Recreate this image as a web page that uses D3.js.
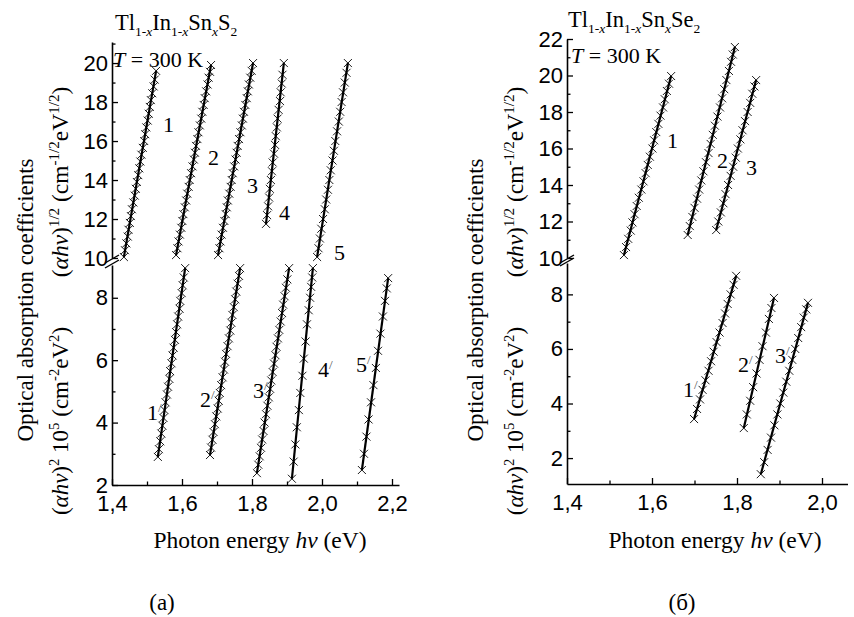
<!DOCTYPE html>
<html>
<head>
<meta charset="utf-8">
<script src="https://cdn.jsdelivr.net/npm/d3@7"></script>
<style>
  body { margin: 0; background: #fff; }
  svg { display: block; }
</style>
</head>
<body>
<div id="plot"></div>
<script>
// Tl1-xIn1-xSnxS2 : (alpha h nu)^1/2 vs photon energy, curves 1..5
const sHalf1 = [[1.434,10.05],[1.437,10.4],[1.441,10.75],[1.445,11.1],[1.447,11.45],[1.451,11.8],[1.454,12.15],[1.457,12.5],[1.461,12.85],[1.465,13.2],[1.468,13.55],[1.471,13.9],[1.475,14.25],[1.478,14.6],[1.481,14.95],[1.484,15.3],[1.488,15.65],[1.492,16.0],[1.495,16.35],[1.498,16.7],[1.502,17.05],[1.505,17.4],[1.508,17.75],[1.511,18.1],[1.515,18.45],[1.519,18.8],[1.522,19.15],[1.526,19.6]];
const sHalf2 = [[1.583,10.15],[1.587,10.5],[1.590,10.85],[1.594,11.2],[1.598,11.55],[1.601,11.9],[1.604,12.25],[1.608,12.6],[1.612,12.95],[1.615,13.3],[1.619,13.65],[1.622,14.0],[1.626,14.35],[1.630,14.7],[1.634,15.05],[1.637,15.4],[1.640,15.75],[1.644,16.1],[1.647,16.45],[1.651,16.8],[1.655,17.15],[1.658,17.5],[1.662,17.85],[1.665,18.2],[1.669,18.55],[1.673,18.9],[1.676,19.25],[1.680,19.55],[1.683,19.9]];
const sHalf3 = [[1.703,10.15],[1.707,10.5],[1.710,10.85],[1.713,11.2],[1.717,11.55],[1.721,11.9],[1.725,12.25],[1.728,12.6],[1.731,12.95],[1.735,13.3],[1.739,13.65],[1.742,14.0],[1.745,14.35],[1.749,14.7],[1.753,15.05],[1.756,15.4],[1.759,15.75],[1.763,16.1],[1.767,16.45],[1.771,16.8],[1.774,17.15],[1.777,17.5],[1.781,17.85],[1.785,18.2],[1.788,18.55],[1.791,18.9],[1.795,19.25],[1.799,19.6],[1.803,20.0]];
const sHalf4 = [[1.840,11.75],[1.843,12.2],[1.846,12.65],[1.849,13.1],[1.851,13.55],[1.854,14.0],[1.857,14.45],[1.859,14.9],[1.863,15.35],[1.866,15.8],[1.868,16.25],[1.871,16.7],[1.873,17.15],[1.876,17.6],[1.880,18.05],[1.882,18.5],[1.885,18.95],[1.887,19.4],[1.891,20.0]];
const sHalf5 = [[1.986,10.05],[1.990,10.5],[1.994,11.0],[1.998,11.5],[2.003,12.0],[2.008,12.5],[2.012,13.0],[2.017,13.5],[2.021,14.0],[2.025,14.5],[2.030,15.0],[2.034,15.5],[2.038,16.0],[2.043,16.5],[2.048,17.0],[2.052,17.5],[2.056,18.0],[2.060,18.5],[2.065,19.0],[2.070,19.5],[2.074,20.0]];

// Tl1-xIn1-xSnxS2 : (alpha h nu)^2 10^5, curves 1'..5'
const sSq1 = [[1.531,2.9],[1.534,3.15],[1.538,3.4],[1.541,3.65],[1.544,3.9],[1.547,4.15],[1.550,4.4],[1.553,4.65],[1.557,4.9],[1.560,5.15],[1.564,5.4],[1.566,5.65],[1.570,5.9],[1.573,6.15],[1.576,6.4],[1.580,6.65],[1.583,6.9],[1.586,7.15],[1.589,7.4],[1.593,7.65],[1.595,7.9],[1.599,8.15],[1.602,8.4],[1.605,8.65],[1.609,8.95]];
const sSq2 = [[1.680,2.96],[1.683,3.2],[1.687,3.45],[1.690,3.7],[1.694,3.95],[1.698,4.2],[1.702,4.45],[1.705,4.7],[1.708,4.95],[1.712,5.2],[1.716,5.45],[1.720,5.7],[1.723,5.95],[1.726,6.2],[1.730,6.45],[1.734,6.7],[1.738,6.95],[1.741,7.2],[1.744,7.45],[1.748,7.7],[1.752,7.95],[1.755,8.2],[1.759,8.45],[1.763,8.7],[1.766,8.95]];
const sSq3 = [[1.814,2.38],[1.818,2.65],[1.822,2.92],[1.826,3.19],[1.829,3.46],[1.833,3.73],[1.836,4.0],[1.840,4.27],[1.844,4.54],[1.848,4.81],[1.852,5.08],[1.855,5.35],[1.859,5.62],[1.863,5.89],[1.867,6.16],[1.870,6.43],[1.874,6.7],[1.878,6.97],[1.882,7.24],[1.886,7.51],[1.889,7.78],[1.893,8.05],[1.897,8.32],[1.901,8.59],[1.906,8.95]];
const sSq4 = [[1.914,2.2],[1.919,2.75],[1.924,3.3],[1.928,3.85],[1.934,4.4],[1.938,4.95],[1.944,5.5],[1.948,6.05],[1.953,6.6],[1.957,7.15],[1.962,7.6],[1.966,8.0],[1.969,8.35],[1.972,8.65],[1.974,8.95]];
const sSq5 = [[2.114,2.48],[2.120,3.0],[2.127,3.55],[2.133,4.1],[2.140,4.65],[2.147,5.2],[2.154,5.75],[2.160,6.3],[2.167,6.85],[2.174,7.4],[2.180,7.9],[2.185,8.3],[2.189,8.63]];

// Tl1-xIn1-xSnxSe2 : (alpha h nu)^1/2, curves 1..3
const seHalf1 = [[1.534,10.16],[1.539,10.6],[1.544,11.05],[1.550,11.5],[1.554,11.95],[1.559,12.4],[1.564,12.85],[1.569,13.3],[1.575,13.75],[1.580,14.2],[1.585,14.65],[1.590,15.1],[1.595,15.55],[1.601,16.0],[1.605,16.45],[1.610,16.9],[1.615,17.35],[1.620,17.8],[1.626,18.25],[1.630,18.7],[1.635,19.15],[1.640,19.55],[1.645,19.97]];
const seHalf2 = [[1.684,11.26],[1.689,11.75],[1.695,12.25],[1.700,12.75],[1.706,13.25],[1.711,13.75],[1.716,14.25],[1.721,14.75],[1.727,15.25],[1.733,15.75],[1.738,16.25],[1.743,16.75],[1.748,17.25],[1.754,17.75],[1.760,18.25],[1.765,18.75],[1.770,19.25],[1.775,19.75],[1.781,20.25],[1.786,20.75],[1.790,21.15],[1.795,21.56]];
const seHalf3 = [[1.751,11.53],[1.756,12.0],[1.762,12.5],[1.768,13.0],[1.773,13.5],[1.779,14.0],[1.785,14.5],[1.791,15.0],[1.797,15.5],[1.802,16.0],[1.808,16.5],[1.813,17.0],[1.819,17.5],[1.825,18.0],[1.831,18.5],[1.836,19.0],[1.841,19.4],[1.845,19.75]];

// Tl1-xIn1-xSnxSe2 : (alpha h nu)^2 10^5, curves 1'..3'
const seSq1 = [[1.699,3.43],[1.706,3.8],[1.713,4.15],[1.719,4.5],[1.726,4.85],[1.733,5.2],[1.739,5.55],[1.745,5.9],[1.752,6.25],[1.759,6.6],[1.766,6.95],[1.772,7.3],[1.778,7.65],[1.785,8.0],[1.792,8.35],[1.798,8.68]];
const seSq2 = [[1.816,3.1],[1.823,3.6],[1.831,4.1],[1.838,4.6],[1.846,5.1],[1.853,5.6],[1.860,6.1],[1.868,6.6],[1.875,7.1],[1.881,7.5],[1.887,7.87]];
const seSq3 = [[1.856,1.41],[1.864,1.85],[1.872,2.3],[1.880,2.75],[1.888,3.2],[1.895,3.6],[1.902,4.0],[1.909,4.4],[1.916,4.8],[1.923,5.2],[1.930,5.6],[1.937,6.0],[1.944,6.4],[1.951,6.8],[1.957,7.15],[1.963,7.45],[1.967,7.69]];

// tick values
const xTicksA = [1.4, 1.6, 1.8, 2.0, 2.2];
const xMinorA = [1.5, 1.7, 1.9, 2.1];
const xTicksB = [1.4, 1.6, 1.8, 2.0];
const xMinorB = [1.5, 1.7, 1.9];
const yTopTicksA = [10, 12, 14, 16, 18, 20];
const yTopTicksB = [10, 12, 14, 16, 18, 20, 22];
const yTopMinor = [11, 13, 15, 17, 19, 21];
const yBotTicks = [2, 4, 6, 8];
const yBotMinor = [3, 5, 7];

const w = 854, h = 617;
const serif = "'Liberation Serif', 'Times New Roman', serif";
const sans = "'Liberation Sans', Arial, sans-serif";

const svg = d3.select("#plot").append("svg")
  .attr("width", w)
  .attr("height", h);

svg.append("rect").attr("width", w).attr("height", h).attr("fill", "white");

const fmt = d => d3.format(".1f")(d).replace(".", ",");

// rich text: parts = [text, mode, italic, colour]; mode "" | "sub" | "sup"
function rich(g, x, y, parts, size, opts = {}) {
  const t = g.append("text")
    .attr("x", x).attr("y", y)
    .attr("font-family", serif)
    .attr("font-size", size)
    .attr("fill", "black")
    .attr("text-anchor", opts.anchor || "start");
  if (opts.rotate) t.attr("transform", `rotate(-90,${x},${y})`);
  const small = opts.small || 0.6;
  let cur = 0;
  parts.forEach(p => {
    const mode = p[1] || "";
    const want = mode === "sub" ? size * 0.28 : mode === "sup" ? -size * 0.38 : 0;
    const ts = t.append("tspan").attr("dy", want - cur).text(p[0]);
    if (mode) ts.attr("font-size", size * small);
    if (p[2]) ts.attr("font-style", "italic");
    if (p[3]) ts.attr("fill", p[3]);
    cur = want;
  });
  return t;
}

function panel(cfg) {
  const g = svg.append("g");
  const x = d3.scaleLinear().domain(cfg.xDomain).range(cfg.xRange);
  const yTop = d3.scaleLinear().domain(cfg.topDomain).range(cfg.topRange);
  const yBot = d3.scaleLinear().domain(cfg.botDomain).range(cfg.botRange);
  const ax = cfg.xRange[0];
  const ay = cfg.botRange[0];

  const styleAxis = sel => {
    sel.select(".domain").attr("stroke-width", 1.6);
    sel.selectAll(".tick line").attr("stroke-width", 1.3);
    sel.selectAll("text").attr("font-family", sans).attr("font-size", 22).attr("fill", "black");
  };

  // x axis
  g.append("g").attr("transform", `translate(0,${ay})`)
    .call(d3.axisBottom(x).tickValues(cfg.xTicks).tickFormat(fmt)
      .tickSizeInner(-6).tickSizeOuter(0).tickPadding(10))
    .call(styleAxis);
  g.append("g").attr("transform", `translate(0,${ay})`)
    .call(d3.axisBottom(x).tickValues(cfg.xMinor).tickFormat("")
      .tickSizeInner(-3.5).tickSizeOuter(0))
    .call(s => s.select(".domain").remove())
    .call(styleAxis);

  // y axes (broken)
  [[yTop, cfg.topTicks, yTopMinor], [yBot, yBotTicks, yBotMinor]].forEach(([ys, tv, mv]) => {
    g.append("g").attr("transform", `translate(${ax},0)`)
      .call(d3.axisLeft(ys).tickValues(tv).tickFormat(d3.format("d"))
        .tickSizeInner(-6).tickSizeOuter(0).tickPadding(4))
      .call(styleAxis);
    g.append("g").attr("transform", `translate(${ax},0)`)
      .call(d3.axisLeft(ys).tickValues(mv).tickFormat("")
        .tickSizeInner(-3.5).tickSizeOuter(0))
      .call(s => s.select(".domain").remove())
      .call(styleAxis);
  });

  // break marks
  [cfg.topRange[0] + 1, cfg.botRange[1] - 1].forEach(by => {
    g.append("line")
      .attr("x1", ax - 7).attr("y1", by + 4)
      .attr("x2", ax + 7).attr("y2", by - 4)
      .attr("stroke", "black").attr("stroke-width", 1.4);
  });

  // curves
  const draw = (series, ys) => {
    series.forEach(d => {
      const ends = [d[0], d[d.length - 1]];
      g.append("path")
        .attr("d", d3.line().x(p => x(p[0])).y(p => ys(p[1]))(ends))
        .attr("fill", "none").attr("stroke", "black").attr("stroke-width", 2.2);
      g.append("g").selectAll("path")
        .data(d).join("path")
        .attr("d", p => {
          const cx = x(p[0]), cy = ys(p[1]), r = 4;
          return `M${cx - r},${cy - r}L${cx + r},${cy + r}M${cx - r},${cy + r}L${cx + r},${cy - r}`;
        })
        .attr("stroke", "black").attr("stroke-width", 0.9).attr("fill", "none");
    });
  };
  draw(cfg.topSeries, yTop);
  draw(cfg.botSeries, yBot);

  // curve numbers
  cfg.topLabels.forEach(l => rich(g, l[1], l[2], [[l[0]]], 22));
  cfg.botLabels.forEach(l => rich(g, l[1], l[2], [[l[0]], ["/", "sup", false, "#555"]], 22));

  // titles
  rich(g, cfg.titleX, cfg.titleY, cfg.title, 22.5);
  rich(g, cfg.tX, cfg.tY, [["T", "", true], [" = 300 K"]], 22);

  // axis titles
  rich(g, cfg.xLabelX, 548, [["Photon energy  "], ["hν", "", true], ["  (eV)"]], 23.5, { anchor: "middle" });
  rich(g, cfg.col1, 300, [["Optical absorption coefficients"]], 23, { anchor: "middle", rotate: true });
  rich(g, cfg.col2, 182, [["("], ["αhν", "", true], [")"], ["1/2", "sup"], ["  (cm"], ["-1/2", "sup"], ["eV"], ["1/2", "sup"], [")"]], 23.5, { anchor: "middle", rotate: true, small: 0.64 });
  rich(g, cfg.col2, 421, [["("], ["αhν", "", true], [")"], ["2", "sup"], [" 10"], ["5", "sup"], ["  (cm"], ["-2", "sup"], ["eV"], ["2", "sup"], [")"]], 23, { anchor: "middle", rotate: true, small: 0.64 });
  rich(g, cfg.tagX, 610, [[cfg.tag]], 23, { anchor: "middle" });
}

panel({
  xDomain: [1.4, 2.22], xRange: [112, 399],
  topDomain: [10, 21.08], topRange: [258, 42],
  botDomain: [2, 9.05], botRange: [485, 265],
  xTicks: xTicksA, xMinor: xMinorA, topTicks: yTopTicksA,
  topSeries: [sHalf1, sHalf2, sHalf3, sHalf4, sHalf5],
  botSeries: [sSq1, sSq2, sSq3, sSq4, sSq5],
  topLabels: [["1", 163, 132], ["2", 208, 165], ["3", 247, 193], ["4", 279, 220], ["5", 334, 260]],
  botLabels: [["1", 147, 420], ["2", 200, 407], ["3", 253, 398], ["4", 318, 377], ["5", 356, 372]],
  title: [["Tl"], ["1-", "sub"], ["x", "sub", true], ["In"], ["1-", "sub"], ["x", "sub", true], ["Sn"], ["x", "sub", true], ["S"], ["2", "sub"]],
  titleX: 115, titleY: 30, tX: 113, tY: 67,
  xLabelX: 260, col1: 33, col2: 68, tagX: 162, tag: "(a)"
});

panel({
  xDomain: [1.4, 2.06], xRange: [567, 847.5],
  topDomain: [10, 22], topRange: [258, 39],
  botDomain: [1.05, 9.15], botRange: [484, 263],
  xTicks: xTicksB, xMinor: xMinorB, topTicks: yTopTicksB,
  topSeries: [seHalf1, seHalf2, seHalf3],
  botSeries: [seSq1, seSq2, seSq3],
  topLabels: [["1", 667, 148], ["2", 717, 168], ["3", 746, 175]],
  botLabels: [["1", 683, 397], ["2", 738, 372], ["3", 775, 363]],
  title: [["Tl"], ["1-", "sub"], ["x", "sub", true], ["In"], ["1-", "sub"], ["x", "sub", true], ["Sn"], ["x", "sub", true], ["Se"], ["2", "sub"]],
  titleX: 568, titleY: 27, tX: 571, tY: 63,
  xLabelX: 715, col1: 483, col2: 523, tagX: 682, tag: "(б)"
});
</script>
</body>
</html>
